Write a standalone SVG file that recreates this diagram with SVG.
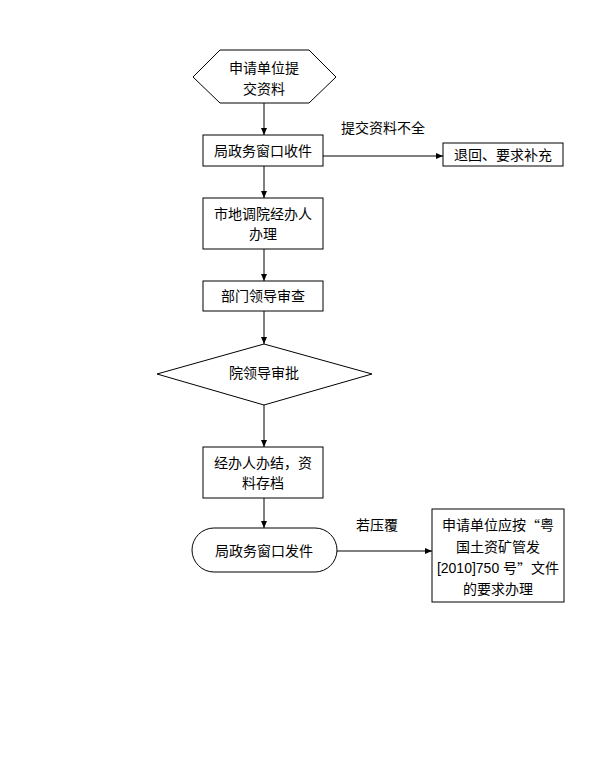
<svg xmlns="http://www.w3.org/2000/svg" width="612" height="770" viewBox="0 0 612 770">
<style>
.s{fill:#fff;stroke:#000;stroke-width:1}
.t{font-family:"Liberation Sans","Noto Sans CJK SC",sans-serif;font-size:14px;fill:#000;text-anchor:middle;dominant-baseline:central}
.q{font-family:"Noto Sans CJK SC",sans-serif}
.c{fill:none;stroke:#000;stroke-width:1}
</style>
<defs>
<marker id="ah" markerWidth="8" markerHeight="8" refX="7" refY="4" orient="auto" markerUnits="userSpaceOnUse">
<path d="M0,1 L7,4 L0,7 Z" fill="#000"/>
</marker>
</defs>
<rect width="612" height="770" fill="#fff"/>
<g id="connectors">
<line class="c" x1="264" y1="103" x2="264" y2="135" marker-end="url(#ah)"/>
<line class="c" x1="264" y1="166" x2="264" y2="198" marker-end="url(#ah)"/>
<line class="c" x1="264" y1="249" x2="264" y2="281" marker-end="url(#ah)"/>
<line class="c" x1="264" y1="311" x2="264" y2="344" marker-end="url(#ah)"/>
<line class="c" x1="264" y1="405" x2="264" y2="447" marker-end="url(#ah)"/>
<line class="c" x1="264" y1="498" x2="264" y2="528" marker-end="url(#ah)"/>
<line class="c" x1="323" y1="156" x2="443" y2="156" marker-end="url(#ah)"/>
<text class="t" x="383" y="128">提交资料不全</text>
<line class="c" x1="337" y1="551" x2="432" y2="551" marker-end="url(#ah)"/>
<text class="t" x="377" y="525">若压覆</text>
</g>
<g id="n1">
<polygon class="s" points="193,77 220,50 309,50 336,77 309,103 220,103"/>
<text class="t" x="264" y="68">申请单位提</text>
<text class="t" x="264" y="89">交资料</text>
</g>
<g id="n2">
<rect class="s" x="203" y="135" width="120" height="31"/>
<text class="t" x="263" y="151">局政务窗口收件</text>
</g>
<g id="n3">
<rect class="s" x="443" y="143" width="120" height="23"/>
<text class="t" x="503" y="155">退回、要求补充</text>
</g>
<g id="n4">
<rect class="s" x="203" y="198" width="120" height="51"/>
<text class="t" x="263" y="214">市地调院经办人</text>
<text class="t" x="263" y="234">办理</text>
</g>
<g id="n5">
<rect class="s" x="203" y="281" width="120" height="30"/>
<text class="t" x="263" y="296">部门领导审查</text>
</g>
<g id="n6">
<polygon class="s" points="157,374 264,344 372,374 264,405"/>
<text class="t" x="264" y="373">院领导审批</text>
</g>
<g id="n7">
<rect class="s" x="203" y="447" width="120" height="51"/>
<text class="t" x="263" y="463">经办人办结，资</text>
<text class="t" x="263" y="483">料存档</text>
</g>
<g id="n8">
<rect class="s" x="192" y="528" width="145" height="44" rx="22" ry="22"/>
<text class="t" x="264" y="551">局政务窗口发件</text>
</g>
<g id="n9">
<rect class="s" x="432" y="509" width="132" height="93"/>
<text class="t" x="498" y="525">申请单位应按<tspan class="q">“</tspan>粤</text>
<text class="t" x="498" y="547">国土资矿管发</text>
<text class="t" x="498" y="568">[2010]750 号<tspan class="q">”</tspan>文件</text>
<text class="t" x="498" y="589">的要求办理</text>
</g>
</svg>
